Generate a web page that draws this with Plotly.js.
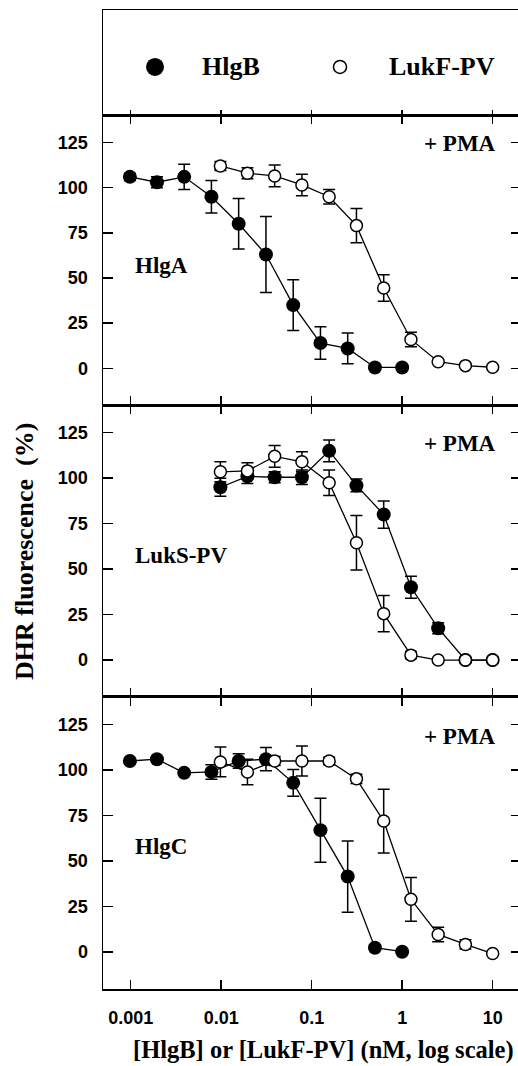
<!DOCTYPE html>
<html>
<head>
<meta charset="utf-8">
<script src="https://cdn.plot.ly/plotly-3.0.1.min.js"></script>
<style>html,body{margin:0;padding:0;background:#fff;}</style>
</head>
<body>
<div id="chart" style="width:518px;height:1066px;"></div>
<script>
// ---- data (concentrations in nM) ----
const xHlgB_low = [0.00098, 0.00195, 0.0039, 0.0078, 0.0156, 0.03125, 0.0625, 0.125, 0.25, 0.5, 1];
const xHigh = [0.0098, 0.0195, 0.039, 0.078, 0.156, 0.3125, 0.625, 1.25, 2.5, 5, 10];
const xTicks = [0.001, 0.01, 0.1, 1, 10];
const xTickText = ["0.001", "0.01", "0.1", "1", "10"];
const yTicks = [0, 25, 50, 75, 100, 125];

// Panel HlgA
const hlgA_HlgB = [106, 103, 106, 95, 80, 63, 35, 14, 11, 0.5, 0.5];
const hlgA_HlgB_err = [2, 3, 7, 9, 14, 21, 14, 9, 8.5, 0, 0];
const hlgA_LukF = [112, 108, 106.5, 101.5, 95, 79, 44.5, 16, 3.7, 1.5, 0.6];
const hlgA_LukF_err = [2.5, 3, 6, 6, 4, 9.5, 7.3, 4, 1, 0, 0];

// Panel LukS-PV
const lukS_HlgB = [95, 101, 100.5, 100.5, 115, 96, 80, 40, 17.5, 0, 0];
const lukS_HlgB_err = [5, 4, 3, 4, 6, 3.5, 7.5, 6, 3, 0, 0];
const lukS_LukF = [103.5, 104, 112, 109, 97.5, 64.5, 25.5, 2.7, 0, 0, 0];
const lukS_LukF_err = [5.5, 4.5, 6, 5.5, 7, 15, 10, 2, 0, 0, 0];

// Panel HlgC
const hlgC_HlgB = [105, 106, 98.5, 99, 105, 106, 93, 67, 41.5, 2.4, 0.2];
const hlgC_HlgB_err = [0, 0, 0, 4, 4, 6.4, 7.4, 17.6, 19.6, 0, 0];
const hlgC_LukF = [104.5, 99, 105, 105, 105, 95.2, 72, 29, 9.7, 4.2, -0.8];
const hlgC_LukF_err = [8.2, 7, 2.5, 8.2, 2, 2.5, 17.5, 12, 4, 2.5, 0];

const panelNames = ["HlgA", "LukS-PV", "HlgC"];
const seriesNames = ["HlgB", "LukF-PV"];

// ---- styling ----
const SERIF = "Liberation Serif, Times New Roman, serif";
const SANS = "Liberation Sans, Arial, sans-serif";
const XR = [-3.306, 1.28];
const YR = [-20.3, 140.2];

function filled(x, y, e, xa, ya) {
  return {x: x, y: y, xaxis: xa, yaxis: ya, type: "scatter", mode: "lines+markers",
    line: {color: "#000", width: 1.3},
    marker: {size: 14, color: "#000", line: {width: 0}},
    error_y: {type: "data", array: e, visible: true, color: "#000", thickness: 1.5, width: 6},
    showlegend: false, hoverinfo: "skip"};
}
function open(x, y, e, xa, ya) {
  return {x: x, y: y, xaxis: xa, yaxis: ya, type: "scatter", mode: "lines+markers",
    line: {color: "#000", width: 1.3},
    marker: {size: 12, color: "#fff", line: {width: 1.5, color: "#000"}},
    error_y: {type: "data", array: e, visible: true, color: "#000", thickness: 1.5, width: 6},
    showlegend: false, hoverinfo: "skip"};
}
function dummy(xa, ya) {
  return {x: [null], y: [null], xaxis: xa, yaxis: ya, type: "scatter", mode: "markers",
    showlegend: false, hoverinfo: "skip"};
}

const data = [
  filled(xHlgB_low, hlgA_HlgB, hlgA_HlgB_err, "x", "y"),
  open(xHigh, hlgA_LukF, hlgA_LukF_err, "x", "y"),
  filled(xHigh, lukS_HlgB, lukS_HlgB_err, "x2", "y2"),
  open(xHigh, lukS_LukF, lukS_LukF_err, "x2", "y2"),
  filled(xHlgB_low, hlgC_HlgB, hlgC_HlgB_err, "x3", "y3"),
  open(xHigh, hlgC_LukF, hlgC_LukF_err, "x3", "y3"),
  dummy("x4", "y4"),
  dummy("x", "y5"), dummy("x2", "y6"), dummy("x3", "y7")
];

const doms = [[0.5965, 0.8927], [0.2983, 0.5965], [0, 0.2983]];

function xAxis(anchor, labels) {
  return {type: "log", range: XR, domain: [0, 1], anchor: anchor,
    tickvals: xTicks, ticktext: xTickText, showticklabels: labels,
    ticks: "inside", ticklen: 9, tickwidth: 1.5, tickcolor: "#000",
    showline: true, linewidth: 1.5, linecolor: "#000", mirror: "ticks",
    showgrid: false, zeroline: false,
    tickfont: {family: SANS, size: 18, color: "#000", weight: "bold"},
    ticklabelstandoff: 12};
}
function yAxis(anchor, dom) {
  return {range: YR, domain: dom, anchor: anchor, tickvals: yTicks,
    ticks: "inside", ticklen: 10, tickwidth: 1.5, tickcolor: "#000",
    showline: true, linewidth: 1.5, linecolor: "#000", mirror: false,
    showgrid: false, zeroline: false,
    tickfont: {family: SANS, size: 18, color: "#000", weight: "bold"},
    ticklabelstandoff: 10};
}
function yRight(over) {
  return {range: YR, overlaying: over, side: "right", anchor: "free", position: 1,
    tickvals: yTicks, ticks: "inside", ticklen: 7, tickwidth: 1.5, tickcolor: "#000",
    showticklabels: false, showline: false, showgrid: false, zeroline: false};
}

const annotations = [];
const labelY = [0.7395, 0.4426, 0.1454];
const pmaY = [0.8641, 0.5574, 0.2577];
for (let i = 0; i < 3; i++) {
  annotations.push({xref: "paper", yref: "paper", x: 0.0723, y: labelY[i], xanchor: "left", yanchor: "middle",
    text: "<b>" + panelNames[i] + "</b>", showarrow: false, font: {family: SERIF, size: 23, color: "#000"}});
  annotations.push({xref: "paper", yref: "paper", x: 0.9518, y: pmaY[i], xanchor: "right", yanchor: "middle",
    text: "<b>+ PMA</b>", showarrow: false, font: {family: SERIF, size: 23, color: "#000"}});
}
// legend texts
annotations.push({xref: "paper", yref: "paper", x: 0.2337, y: 0.9418, xanchor: "left", yanchor: "middle",
  text: "<b>" + seriesNames[0] + "</b>", showarrow: false, font: {family: SERIF, size: 26, color: "#000"}});
annotations.push({xref: "paper", yref: "paper", x: 0.6843, y: 0.9418, xanchor: "left", yanchor: "middle",
  text: "<b>" + seriesNames[1] + "</b>", showarrow: false, font: {family: SERIF, size: 26, color: "#000"}});
// axis titles
annotations.push({xref: "paper", yref: "paper", x: -0.188, y: 0.4474, xanchor: "center", yanchor: "middle",
  textangle: -90, text: "<b>DHR fluorescence  (%)</b>", showarrow: false,
  font: {family: SERIF, size: 26, color: "#000"}});
annotations.push({xref: "paper", yref: "paper", x: 0.5325, y: -0.0623, xanchor: "center", yanchor: "middle",
  text: "<b>[HlgB] or [LukF-PV] (nM, log scale)</b>", showarrow: false,
  font: {family: SERIF, size: 24.5, color: "#000"}});

const shapes = [
  {type: "circle", xref: "paper", yref: "paper", xsizemode: "pixel", ysizemode: "pixel",
   xanchor: 0.1253, yanchor: 0.9418, x0: -9, x1: 9, y0: -9, y1: 9,
   fillcolor: "#000", line: {color: "#000", width: 0}},
  {type: "circle", xref: "paper", yref: "paper", xsizemode: "pixel", ysizemode: "pixel",
   xanchor: 0.5711, yanchor: 0.9418, x0: -6.5, x1: 6.5, y0: -6.5, y1: 6.5,
   fillcolor: "#fff", line: {color: "#000", width: 1.5}}
];

const layout = {
  width: 518, height: 1066,
  margin: {l: 103, r: 0, t: 10, b: 77, pad: 0},
  paper_bgcolor: "#fff", plot_bgcolor: "rgba(0,0,0,0)",
  showlegend: false,
  xaxis: xAxis("y", false),
  xaxis2: xAxis("y2", false),
  xaxis3: xAxis("y3", true),
  xaxis4: {type: "log", range: XR, domain: [0, 1], anchor: "y4", tickvals: xTicks,
    ticks: "inside", ticklen: 5, tickwidth: 1.5, tickcolor: "#000", showticklabels: false,
    showline: true, linewidth: 1.5, linecolor: "#000", mirror: true, showgrid: false, zeroline: false},
  yaxis: yAxis("x", doms[0]),
  yaxis2: yAxis("x2", doms[1]),
  yaxis3: yAxis("x3", doms[2]),
  yaxis4: {range: [0, 1], domain: [0.8927, 1], anchor: "x4", showticklabels: false, ticks: "",
    showline: true, linewidth: 1.5, linecolor: "#000", mirror: true, showgrid: false, zeroline: false},
  yaxis5: yRight("y"),
  yaxis6: yRight("y2"),
  yaxis7: yRight("y3"),
  annotations: annotations,
  shapes: shapes
};

Plotly.newPlot("chart", data, layout, {staticPlot: true, displayModeBar: false});
</script>
</body>
</html>
